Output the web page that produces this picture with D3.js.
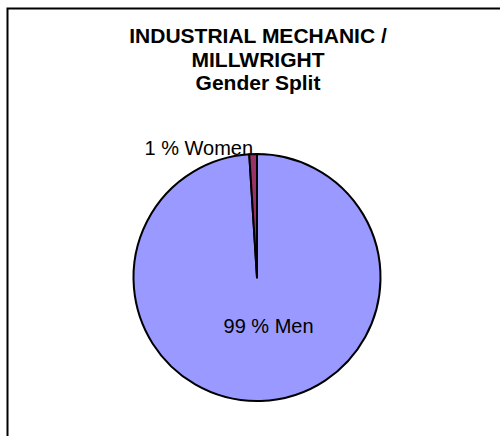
<!DOCTYPE html>
<html>
<head>
<meta charset="utf-8">
<script src="https://cdn.jsdelivr.net/npm/d3@7"></script>
<style>
  body { margin: 0; background: #fff; }
  text { font-family: "Liberation Sans", Arial, sans-serif; }
</style>
</head>
<body>
<script>
var titleLines = ["INDUSTRIAL MECHANIC /", "MILLWRIGHT", "Gender Split"];
var genders = ["Men", "Women"];
var shares = [99, 1];
var colors = ["#9999ff", "#993366"];

var width = 500, height = 436;
var cx = 257, cy = 277.5, radius = 123.5;

var svg = d3.select("body").append("svg")
    .attr("width", width)
    .attr("height", height);

// chart border (runs off the right and bottom edge)
svg.append("rect")
    .attr("x", 7.5).attr("y", 8.5)
    .attr("width", 520).attr("height", 460)
    .attr("fill", "#fff")
    .attr("stroke", "#000")
    .attr("stroke-width", 2);

svg.append("text")
    .attr("x", 258)
    .attr("y", 43)
    .attr("text-anchor", "middle")
    .style("font-size", "21px")
    .style("font-weight", "bold")
    .selectAll("tspan")
    .data(titleLines)
    .enter().append("tspan")
    .attr("x", 258)
    .attr("dy", function(d, i) { return i == 0 ? 0 : 23.5; })
    .text(function(d) { return d; });

var data = genders.map(function(g, i) { return { name: g, value: shares[i], color: colors[i] }; });

var pie = d3.pie().sort(null).value(function(d) { return d.value; });
var arc = d3.arc().innerRadius(0).outerRadius(radius);

var chartGroup = svg.append("g")
    .attr("transform", "translate(" + cx + "," + cy + ")");

var slices = pie(data);

chartGroup.selectAll("path")
    .data(slices)
    .enter().append("path")
    .attr("d", arc)
    .attr("fill", function(d) { return d.data.color; })
    .attr("stroke", "#000")
    .attr("stroke-width", 2)
    .attr("stroke-linejoin", "round");

// labels
var innerLabel = d3.arc().innerRadius(49).outerRadius(49);
var outerLabel = d3.arc().innerRadius(radius).outerRadius(radius);

var men = slices[0], women = slices[1];
var pm = innerLabel.centroid(men);
chartGroup.append("text")
    .attr("x", pm[0] + 10)
    .attr("y", pm[1] + 7)
    .attr("text-anchor", "middle")
    .style("font-size", "20px")
    .text(men.data.value + " % " + men.data.name);

var pw = outerLabel.centroid(women);
chartGroup.append("text")
    .attr("x", pw[0])
    .attr("y", pw[1] + 1)
    .attr("text-anchor", "end")
    .style("font-size", "20px")
    .text(women.data.value + " % " + women.data.name);
</script>
</body>
</html>
